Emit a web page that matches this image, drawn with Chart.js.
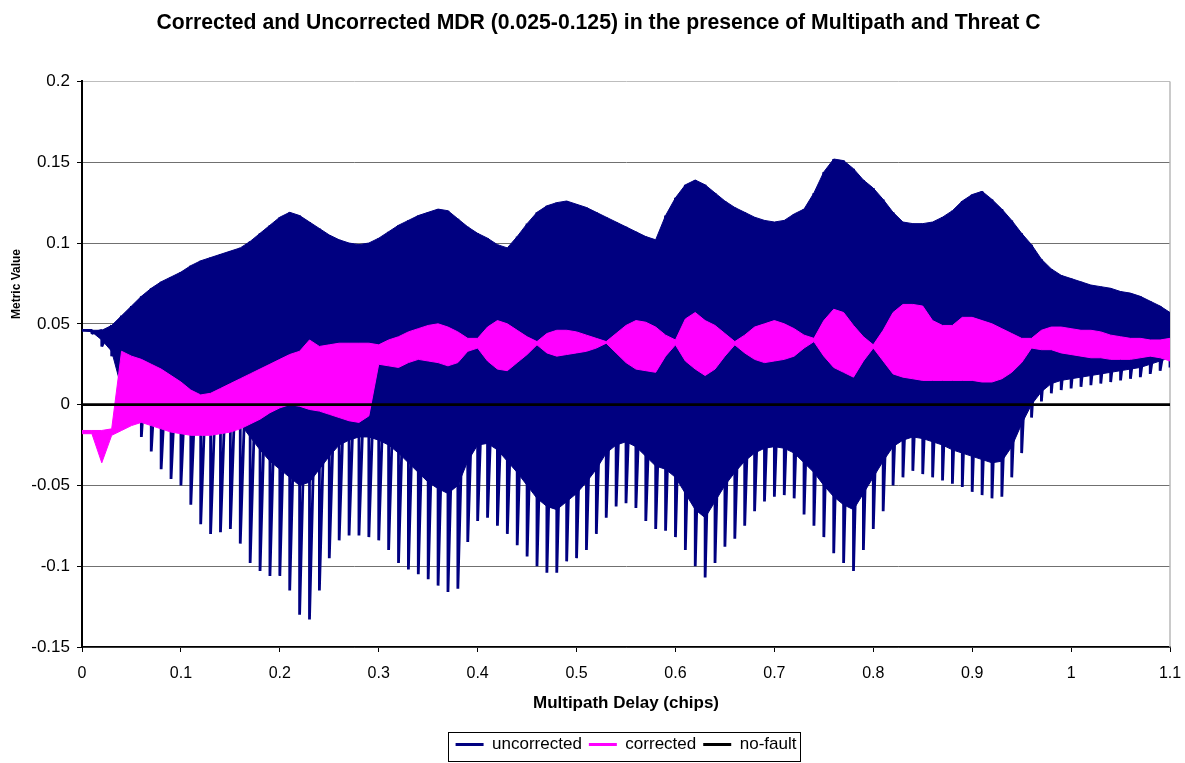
<!DOCTYPE html>
<html>
<head>
<meta charset="utf-8">
<title>Corrected and Uncorrected MDR</title>
<script src="https://cdn.jsdelivr.net/npm/chart.js@4/dist/chart.umd.min.js"></script>
<style>
  html, body { margin: 0; padding: 0; background: #ffffff; }
  canvas { display: block; }
</style>
</head>
<body>
<canvas id="mdr" width="1185" height="763"></canvas>
<script>
// Multipath delay sample grid (chips), one sample every 0.01 chip from 0 to 1.1
const delay = Array.from({ length: 111 }, (_, i) => i / 100);

// Uncorrected metric: upper swing, lower edge of the dense body, lower swing tips
const uncorrHigh = [
  0.046, 0.046, 0.046, 0.049, 0.055, 0.061, 0.067, 0.072, 0.076, 0.079,
  0.082, 0.086, 0.089, 0.091, 0.093, 0.095, 0.097, 0.101, 0.106, 0.111,
  0.116, 0.119, 0.117, 0.113, 0.109, 0.105, 0.102, 0.100, 0.099, 0.100,
  0.103, 0.107, 0.111, 0.114, 0.117, 0.119, 0.121, 0.120, 0.115, 0.110,
  0.106, 0.103, 0.099, 0.097, 0.104, 0.112, 0.119, 0.123, 0.125, 0.126,
  0.124, 0.122, 0.119, 0.116, 0.113, 0.110, 0.107, 0.104, 0.102, 0.117,
  0.128, 0.136, 0.139, 0.136, 0.131, 0.126, 0.122, 0.119, 0.116, 0.114,
  0.113, 0.114, 0.118, 0.121, 0.131, 0.144, 0.152, 0.151, 0.146, 0.139,
  0.134, 0.127, 0.119, 0.113, 0.112, 0.112, 0.113, 0.116, 0.120, 0.126,
  0.130, 0.132, 0.127, 0.121, 0.114, 0.106, 0.099, 0.090, 0.084, 0.080,
  0.078, 0.076, 0.074, 0.073, 0.072, 0.070, 0.069, 0.067, 0.064, 0.061, 0.057
];
const uncorrBodyLow = [
  0.046, 0.045, 0.040, 0.033, 0.010, 0.008, 0.005, 0.002, 0.000, -0.003,
  -0.005, -0.007, -0.008, -0.008, -0.008, -0.008, -0.012, -0.020, -0.028, -0.035,
  -0.040, -0.045, -0.050, -0.048, -0.040, -0.032, -0.025, -0.022, -0.020, -0.020,
  -0.022, -0.025, -0.030, -0.036, -0.042, -0.048, -0.052, -0.055, -0.050, -0.035,
  -0.025, -0.024, -0.028, -0.035, -0.042, -0.050, -0.058, -0.063, -0.065, -0.060,
  -0.055, -0.048, -0.040, -0.030, -0.025, -0.023, -0.026, -0.032, -0.038, -0.040,
  -0.045, -0.055, -0.065, -0.070, -0.060, -0.050, -0.042, -0.035, -0.030, -0.027,
  -0.026, -0.027, -0.030, -0.036, -0.042, -0.050, -0.057, -0.062, -0.065, -0.055,
  -0.045, -0.035, -0.026, -0.022, -0.020, -0.021, -0.023, -0.025, -0.028, -0.030,
  -0.032, -0.034, -0.036, -0.035, -0.026, -0.012, 0.000, 0.008, 0.013, 0.015,
  0.016, 0.017, 0.018, 0.019, 0.020, 0.021, 0.022, 0.023, 0.025, 0.027, 0.029
];
const uncorrLow = [
  0.046, 0.044, 0.036, 0.030, -0.005, -0.012, -0.020, -0.029, -0.040, -0.046,
  -0.050, -0.062, -0.074, -0.080, -0.079, -0.077, -0.086, -0.098, -0.103, -0.106,
  -0.106, -0.115, -0.130, -0.133, -0.115, -0.095, -0.084, -0.081, -0.081, -0.082,
  -0.084, -0.090, -0.098, -0.102, -0.105, -0.108, -0.112, -0.116, -0.114, -0.085,
  -0.072, -0.070, -0.075, -0.080, -0.087, -0.094, -0.100, -0.104, -0.104, -0.097,
  -0.095, -0.090, -0.080, -0.070, -0.063, -0.061, -0.064, -0.072, -0.077, -0.078,
  -0.082, -0.090, -0.100, -0.107, -0.098, -0.088, -0.083, -0.075, -0.066, -0.060,
  -0.057, -0.056, -0.058, -0.068, -0.075, -0.082, -0.092, -0.098, -0.103, -0.090,
  -0.077, -0.066, -0.050, -0.045, -0.041, -0.043, -0.045, -0.047, -0.049, -0.051,
  -0.054, -0.056, -0.058, -0.057, -0.045, -0.030, -0.008, 0.002, 0.007, 0.009,
  0.010, 0.011, 0.012, 0.013, 0.014, 0.015, 0.016, 0.017, 0.019, 0.021, 0.023
];

// Corrected metric: upper and lower swing
const corrHigh = [
  -0.016, -0.016, -0.016, -0.015, 0.033, 0.030, 0.028, 0.025, 0.022, 0.018,
  0.014, 0.009, 0.006, 0.007, 0.010, 0.013, 0.016, 0.019, 0.022, 0.025,
  0.028, 0.031, 0.033, 0.040, 0.036, 0.037, 0.038, 0.038, 0.038, 0.038,
  0.037, 0.040, 0.042, 0.045, 0.047, 0.049, 0.050, 0.048, 0.045, 0.041,
  0.041, 0.048, 0.052, 0.050, 0.046, 0.042, 0.039, 0.044, 0.046, 0.046,
  0.045, 0.043, 0.041, 0.039, 0.044, 0.049, 0.052, 0.051, 0.048, 0.043,
  0.040, 0.053, 0.057, 0.052, 0.049, 0.044, 0.039, 0.043, 0.048, 0.050,
  0.052, 0.050, 0.047, 0.043, 0.041, 0.052, 0.059, 0.057, 0.049, 0.042,
  0.037, 0.046, 0.057, 0.062, 0.062, 0.061, 0.052, 0.049, 0.049, 0.054,
  0.054, 0.052, 0.050, 0.047, 0.044, 0.041, 0.041, 0.046, 0.048, 0.048,
  0.047, 0.046, 0.046, 0.045, 0.043, 0.042, 0.041, 0.041, 0.040, 0.040, 0.041
];
const corrLow = [
  -0.018, -0.018, -0.036, -0.019, -0.016, -0.013, -0.011, -0.013, -0.015, -0.017,
  -0.018, -0.019, -0.019, -0.019, -0.018, -0.017, -0.015, -0.012, -0.009, -0.005,
  -0.002, 0.000, -0.001, -0.003, -0.004, -0.006, -0.008, -0.010, -0.011, -0.007,
  0.025, 0.024, 0.023, 0.026, 0.028, 0.027, 0.026, 0.024, 0.026, 0.033,
  0.035, 0.027, 0.022, 0.021, 0.026, 0.031, 0.037, 0.032, 0.030, 0.031,
  0.032, 0.033, 0.035, 0.038, 0.032, 0.026, 0.022, 0.021, 0.020, 0.030,
  0.037, 0.027, 0.022, 0.018, 0.022, 0.030, 0.037, 0.032, 0.028, 0.026,
  0.027, 0.028, 0.030, 0.035, 0.039, 0.030, 0.023, 0.020, 0.017, 0.027,
  0.035, 0.027, 0.019, 0.017, 0.016, 0.015, 0.015, 0.015, 0.015, 0.015,
  0.015, 0.014, 0.014, 0.016, 0.020, 0.026, 0.035, 0.034, 0.034, 0.032,
  0.031, 0.030, 0.029, 0.029, 0.028, 0.028, 0.028, 0.029, 0.030, 0.029, 0.027
];

// No-fault reference level
const noFaultDelay = [0, 1.1];
const noFault = [0, 0];

// Axis tick labels
const delayTicks = ['0', '0.1', '0.2', '0.3', '0.4', '0.5', '0.6', '0.7', '0.8', '0.9', '1', '1.1'];
const metricTicks = ['-0.15', '-0.1', '-0.05', '0', '0.05', '0.1', '0.15', '0.2'];

const NAVY = '#000080';
const MAGENTA = '#ff00ff';
const BLACK = '#000000';

const seriesLegend = [
  { text: 'uncorrected', color: NAVY },
  { text: 'corrected', color: MAGENTA },
  { text: 'no-fault', color: BLACK }
];

const pts = (ys) => delay.map((d, i) => ({ x: d, y: ys[i] }));
// Each sample swings from its upper value down to its lower tip
const swingPts = delay.flatMap((d, i) => [{ x: d, y: uncorrHigh[i] }, { x: d, y: uncorrLow[i] }]);

Chart.defaults.font.family = "'Liberation Sans', Arial, sans-serif";
Chart.defaults.color = '#000';

// Grey frame on the right side of the plot area
const plotFrame = {
  id: 'plotFrame',
  beforeDatasetsDraw(chart) {
    const { ctx, chartArea: a } = chart;
    ctx.save();
    ctx.strokeStyle = '#b8b8b8';
    ctx.lineWidth = 1.5;
    ctx.beginPath();
    ctx.moveTo(a.right, a.top);
    ctx.lineTo(a.right, a.bottom);
    ctx.stroke();
    ctx.restore();
  }
};

// Small rotated value-axis caption
const sideTitle = {
  id: 'sideTitle',
  afterDraw(chart, args, opts) {
    const { ctx } = chart;
    ctx.save();
    ctx.translate(opts.x, opts.y);
    ctx.rotate(-Math.PI / 2);
    ctx.font = opts.font;
    ctx.fillStyle = '#000';
    ctx.textAlign = 'center';
    ctx.textBaseline = 'middle';
    ctx.fillText(opts.text, 0, 0);
    ctx.restore();
  }
};

// Centre title and legend over the plot area; draw a box round the legend
const blockPlacement = {
  id: 'blockPlacement',
  afterLayout(chart) {
    const a = chart.chartArea;
    const lg = chart.legend;
    lg.left = a.left;
    lg.right = a.right;
    const tb = chart.titleBlock;
    if (tb) {
      tb.left = a.left - 70;
      tb.right = a.right + 15;
    }
  },
  afterDraw(chart) {
    const boxes = chart.legend.legendHitBoxes;
    if (!boxes || !boxes.length) return;
    const first = boxes[0];
    const last = boxes[boxes.length - 1];
    const { ctx } = chart;
    const x0 = first.left - 8;
    const x1 = last.left + last.width + 3;
    const y0 = first.top - 4;
    const y1 = first.top + first.height + 8;
    ctx.save();
    ctx.strokeStyle = '#000';
    ctx.lineWidth = 1;
    ctx.strokeRect(Math.round(x0) + 0.5, Math.round(y0) + 0.5, Math.round(x1 - x0), Math.round(y1 - y0));
    ctx.restore();
  }
};

new Chart(document.getElementById('mdr'), {
  type: 'line',
  data: {
    datasets: [
      { label: 'no-fault', data: noFaultDelay.map((d, i) => ({ x: d, y: noFault[i] })),
        borderColor: BLACK, borderWidth: 2.8, fill: false },
      { label: 'corrected', data: pts(corrHigh),
        borderColor: MAGENTA, backgroundColor: MAGENTA, borderWidth: 1, fill: '+1' },
      { label: 'corrected low', data: pts(corrLow),
        borderColor: MAGENTA, borderWidth: 1, fill: false },
      { label: 'uncorrected swing', data: swingPts,
        borderColor: NAVY, borderWidth: 2.8, fill: false, borderJoinStyle: 'bevel' },
      { label: 'uncorrected', data: pts(uncorrHigh),
        borderColor: NAVY, backgroundColor: NAVY, borderWidth: 1, fill: '+1' },
      { label: 'uncorrected body', data: pts(uncorrBodyLow),
        borderColor: NAVY, borderWidth: 1, fill: false }
    ]
  },
  options: {
    responsive: false,
    animation: false,
    devicePixelRatio: 1,
    events: [],
    layout: { padding: { left: 0, right: 15, top: 0, bottom: 0 } },
    elements: { point: { radius: 0 }, line: { tension: 0 } },
    scales: {
      x: {
        type: 'linear', min: 0, max: 1.1,
        ticks: { stepSize: 0.1, autoSkip: false, maxRotation: 0, padding: 12, color: '#000',
          font: { size: 16 }, callback: (v, i) => delayTicks[i] },
        grid: { drawOnChartArea: false, drawTicks: true, tickLength: 5, tickColor: '#000', tickWidth: 1 },
        border: { display: true, color: '#000', width: 1.5 },
        title: { display: true, text: 'Multipath Delay (chips)', color: '#000',
          font: { size: 17, weight: 'bold' }, padding: { top: 0, bottom: 15 } },
        afterFit(s) { s.height = 82; s.paddingLeft = 0; s.paddingRight = 0; }
      },
      y: {
        type: 'linear', min: -0.15, max: 0.2,
        ticks: { stepSize: 0.05, padding: 7, color: '#000', font: { size: 17 },
          callback: (v, i) => metricTicks[i] },
        grid: { color: (c) => (c.index === metricTicks.length - 1 ? '#bdbdbd' : '#707070'),
          lineWidth: 1, tickLength: 5, tickColor: '#000' },
        border: { color: '#000', width: 2 },
        afterFit(s) { s.width = 82; }
      }
    },
    plugins: {
      title: { display: true, color: '#000',
        text: 'Corrected and Uncorrected MDR (0.025-0.125) in the presence of Multipath and Threat C',
        font: { size: 21.2, weight: 'bold' }, padding: { top: 10, bottom: 46 } },
      legend: {
        position: 'bottom',
        labels: {
          usePointStyle: true, pointStyleWidth: 28, padding: 7, color: '#000', font: { size: 17 },
          generateLabels: () => seriesLegend.map((s, i) => ({
            text: s.text, strokeStyle: s.color, fillStyle: s.color, fontColor: '#000',
            lineWidth: 3, pointStyle: 'line', hidden: false, datasetIndex: i
          }))
        }
      },
      tooltip: { enabled: false },
      sideTitle: { text: 'Metric Value', x: 17, y: 284, font: "bold 12px 'Liberation Sans', Arial, sans-serif" }
    }
  },
  plugins: [plotFrame, sideTitle, blockPlacement]
});
</script>
</body>
</html>
